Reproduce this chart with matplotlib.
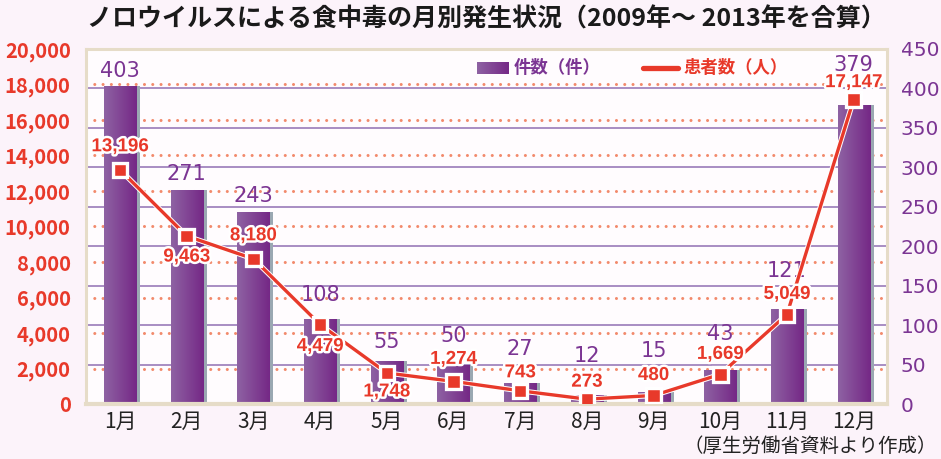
import numpy as np
import matplotlib.pyplot as plt
import matplotlib.patheffects as pe
from matplotlib.colors import LinearSegmentedColormap
from matplotlib.lines import Line2D

plt.rcParams['font.family'] = ['Noto Sans CJK JP', 'DejaVu Sans']

# data
months = ['1月', '2月', '3月', '4月', '5月', '6月', '7月', '8月', '9月', '10月', '11月', '12月']
cases = [403, 271, 243, 108, 55, 50, 27, 12, 15, 43, 121, 379]
patients = [13196, 9463, 8180, 4479, 1748, 1274, 743, 273, 480, 1669, 5049, 17147]

# label offsets in pixels (layout only)
case_off = [15, 16, 16, 24, 19, 29, 34, 39, 41, 36, 38, 40]
pat_off = [23, -21, 23, -22, -19, 22, 18, 17, 20, 20, 20, 17]

red = '#e8392a'
purple = '#7b3593'
beige = '#e6dcc8'
W, H = 941, 459
L, R, B, T = 86, 887, 404, 49

fig = plt.figure(figsize=(W / 100, H / 100), dpi=100, facecolor='#fcf3fa')
ax = fig.add_axes([L / W, 1 - B / H, (R - L) / W, (B - T) / H])
ax2 = ax.twinx()
ax3 = ax.twinx()
ax.set_zorder(0)
ax2.set_zorder(1)
ax3.set_zorder(2)
ax.set_facecolor('#fffcfe')

x = np.arange(len(months))
xlim = (-0.51, 11.5)

# left axis: patients
ax.set_ylim(0, 20000)
lt = np.arange(0, 20001, 2000)
ax.set_yticks(lt)
ax.set_yticklabels([f'{v:,}' for v in lt], color=red, fontsize=14.5, fontweight='bold')
ax.tick_params(axis='y', length=0, pad=11)
for v in lt[1:-1]:
    ax.axhline(v, color='#f28a6c', lw=2.2, ls=(0, (0.01, 2.7)), dash_capstyle='round')
ax.set_xlim(xlim)
ax.set_xticks(x)
ax.set_xticklabels(months, fontsize=15, color='#222222')
ax.tick_params(axis='x', length=0, pad=5)

# right axis: cases
ax2.set_ylim(0, 450)
rt = np.arange(0, 451, 50)
ax2.set_yticks(rt)
ax2.set_yticklabels([str(v) for v in rt], color=purple, fontsize=14.5, family='DejaVu Sans')
ax2.tick_params(axis='y', length=0, pad=10)
for v in rt[1:-1]:
    ax2.axhline(v, color='#a88ec3', lw=1.4, zorder=1)

bw, sw = 0.48, 0.06
ax2.bar(x + bw / 2 + sw / 2, cases, width=sw, color='#9aa8b2', zorder=2)
bars = ax2.bar(x, cases, width=bw, color='#82409a', zorder=3)
cmap = LinearSegmentedColormap.from_list('bar', ['#8e62a3', '#752886'])
grad = np.linspace(0, 1, 64).reshape(1, -1)
for b in bars:
    bx, by = b.get_x(), b.get_y()
    im = ax2.imshow(grad, cmap=cmap, extent=(bx, bx + b.get_width(), by, by + b.get_height()),
                    aspect='auto', zorder=4, interpolation='bicubic')
    im.set_clip_path(b)
ax2.set_xlim(xlim)
ax2.set_ylim(0, 450)

for i, c in enumerate(cases):
    ax2.annotate(str(c), (i, c), xytext=(0, case_off[i]), textcoords='offset pixels',
                 ha='center', va='center', color=purple, fontsize=15,
                 family='DejaVu Sans', zorder=6)

# line: patients
ax3.set_ylim(0, 20000)
ax3.set_xlim(xlim)
ax3.yaxis.set_visible(False)
ax3.plot(x, patients, color=red, lw=2.4, marker='s', ms=9, mec='white', mew=1,
         path_effects=[pe.withStroke(linewidth=3.8, foreground='white')], zorder=5)
for i, p in enumerate(patients):
    ax3.annotate(f'{p:,}', (i, p), xytext=(0, pat_off[i]), textcoords='offset pixels',
                 ha='center', va='center', color=red, fontsize=13.5, fontweight='bold',
                 family='Liberation Sans',
                 path_effects=[pe.withStroke(linewidth=3.5, foreground='white')], zorder=6)

for a in (ax, ax2):
    for s in a.spines.values():
        s.set_visible(False)
for s in ax3.spines.values():
    s.set_color(beige)
    s.set_linewidth(2.2)
ax3.spines['bottom'].set_linewidth(3)

# legend
lax = fig.add_axes([477 / W, 1 - 74 / H, 32 / W, 12 / H])
lax.imshow(grad, cmap=cmap, aspect='auto', interpolation='bicubic')
lax.axis('off')
fig.text(514 / W, 1 - 68 / H, '件数（件）', ha='left', va='center', color=purple,
         fontsize=12.5, fontweight='bold')
fig.add_artist(Line2D([643 / W, 678 / W], [1 - 68 / H, 1 - 68 / H], color=red, lw=3.8,
                      solid_capstyle='round', transform=fig.transFigure))
fig.text(684 / W, 1 - 68 / H, '患者数（人）', ha='left', va='center', color=red,
         fontsize=12.5, fontweight='bold')

fig.text(486 / W, 1 - 19 / H, 'ノロウイルスによる食中毒の月別発生状況（2009年～ 2013年を合算）',
         ha='center', va='center', fontsize=18, fontweight='bold', color='#1a1a1a')
fig.text(937 / W, 1 - 446 / H, '（厚生労働省資料より作成）', ha='right', va='center',
         fontsize=14, color='#222222')

fig.savefig('out.png', dpi=100, facecolor=fig.get_facecolor())
